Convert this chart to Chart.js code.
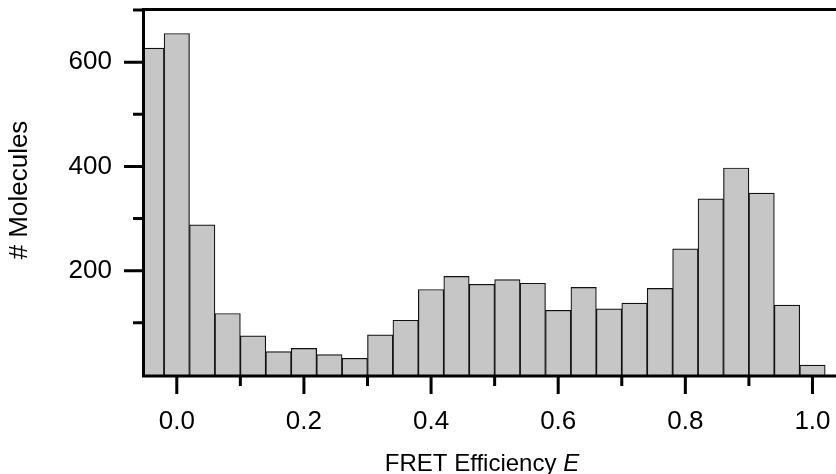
<!DOCTYPE html>
<html>
<head>
<meta charset="utf-8">
<script src="https://cdn.jsdelivr.net/npm/chart.js@4"></script>
<style>
  body { margin: 0; background: #fff; }
  #wrap { width: 836px; height: 474px; }
</style>
</head>
<body>
<div id="wrap"><canvas id="fretChart" width="836" height="474"></canvas></div>
<script>
// Histogram bins (bin centres, width 0.04) and counts
const binCenters = [-0.04, 0.00, 0.04, 0.08, 0.12, 0.16, 0.20, 0.24, 0.28, 0.32, 0.36, 0.40, 0.44, 0.48,
                    0.52, 0.56, 0.60, 0.64, 0.68, 0.72, 0.76, 0.80, 0.84, 0.88, 0.92, 0.96, 1.00];
const counts = [627, 655, 288, 118, 75, 45, 51, 39, 32, 77, 105, 164, 189, 174,
                183, 176, 124, 168, 127, 138, 166, 242, 338, 397, 349, 134, 19];

// Axis ticks
const xMajorTicks = [0.0, 0.2, 0.4, 0.6, 0.8, 1.0];
const xMinorTicks = [0.1, 0.3, 0.5, 0.7, 0.9];
const yMajorTicks = [200, 400, 600];
const yMinorTicks = [100, 300, 500, 700];

const FONT = '"Liberation Sans", Arial, Helvetica, sans-serif';

// Draws the frame, the tick marks and both axis titles (x title has an italic E)
const framePlugin = {
    id: 'frame',
    afterDraw(chart) {
        const ctx = chart.ctx;
        const area = chart.chartArea;
        const xs = chart.scales.x;
        const ys = chart.scales.y;
        ctx.save();
        ctx.strokeStyle = '#000';
        ctx.lineWidth = 3;
        ctx.lineCap = 'butt';

        ctx.beginPath();
        // left spine
        ctx.moveTo(area.left - 1.5, area.top - 2);
        ctx.lineTo(area.left - 1.5, area.bottom + 2.5);
        // bottom spine
        ctx.moveTo(area.left - 3, area.bottom + 1);
        ctx.lineTo(chart.width, area.bottom + 1);
        // top spine
        ctx.moveTo(area.left - 3, area.top - 0.5);
        ctx.lineTo(chart.width, area.top - 0.5);

        yMajorTicks.forEach(v => {
            const y = ys.getPixelForValue(v);
            ctx.moveTo(area.left - 21, y);
            ctx.lineTo(area.left - 3, y);
        });
        yMinorTicks.forEach(v => {
            const y = ys.getPixelForValue(v);
            ctx.moveTo(area.left - 12, y);
            ctx.lineTo(area.left - 3, y);
        });
        xMajorTicks.forEach(v => {
            const x = xs.getPixelForValue(v);
            ctx.moveTo(x, area.bottom + 2);
            ctx.lineTo(x, area.bottom + 19);
        });
        xMinorTicks.forEach(v => {
            const x = xs.getPixelForValue(v);
            ctx.moveTo(x, area.bottom + 2);
            ctx.lineTo(x, area.bottom + 11);
        });
        ctx.stroke();

        // axis titles
        ctx.fillStyle = '#000';
        ctx.textBaseline = 'alphabetic';
        const plain = 'FRET Efficiency ';
        const ital = 'E';
        ctx.font = '24px ' + FONT;
        const w1 = ctx.measureText(plain).width;
        ctx.font = 'italic 24px ' + FONT;
        const w2 = ctx.measureText(ital).width;
        const startX = 482 - (w1 + w2) / 2;
        ctx.font = '24px ' + FONT;
        ctx.textAlign = 'left';
        ctx.fillText(plain, startX, 471);
        ctx.font = 'italic 24px ' + FONT;
        ctx.fillText(ital, startX + w1, 471);

        ctx.translate(27, 190);
        ctx.rotate(-Math.PI / 2);
        ctx.font = '26px ' + FONT;
        ctx.textAlign = 'center';
        ctx.fillText('# Molecules', 0, 0);
        ctx.restore();
    }
};

const ctx = document.getElementById('fretChart').getContext('2d');

new Chart(ctx, {
    type: 'bar',
    data: {
        datasets: [{
            data: binCenters.map((c, i) => ({ x: c, y: counts[i] })),
            backgroundColor: '#c6c6c6',
            borderColor: '#111',
            borderWidth: 1.2,
            barPercentage: 1.0,
            categoryPercentage: 1.0
        }]
    },
    options: {
        responsive: false,
        animation: false,
        layout: { padding: { top: 10, right: 0, bottom: 0, left: 0 } },
        scales: {
            x: {
                type: 'linear',
                min: -0.05,
                max: 1.037,
                offset: false,
                grid: { display: false, drawTicks: false, tickLength: 0 },
                border: { display: false },
                afterBuildTicks: scale => {
                    scale.ticks = xMajorTicks.map(v => ({ value: v }));
                },
                afterFit: scale => {
                    scale.height = 99;
                    scale.paddingLeft = 0;
                    scale.paddingRight = 0;
                },
                ticks: {
                    padding: 31,
                    color: '#000',
                    maxRotation: 0,
                    font: { family: FONT, size: 26 },
                    callback: value => value.toFixed(1)
                }
            },
            y: {
                min: 0,
                max: 700,
                grid: { display: false, drawTicks: false, tickLength: 0 },
                border: { display: false },
                afterBuildTicks: scale => {
                    scale.ticks = yMajorTicks.map(v => ({ value: v }));
                },
                afterFit: scale => {
                    scale.width = 145;
                    scale.paddingTop = 0;
                    scale.paddingBottom = 0;
                },
                ticks: {
                    padding: 33,
                    color: '#000',
                    font: { family: FONT, size: 26 }
                }
            }
        },
        plugins: {
            legend: { display: false },
            tooltip: { enabled: false }
        }
    },
    plugins: [framePlugin]
});
</script>
</body>
</html>
